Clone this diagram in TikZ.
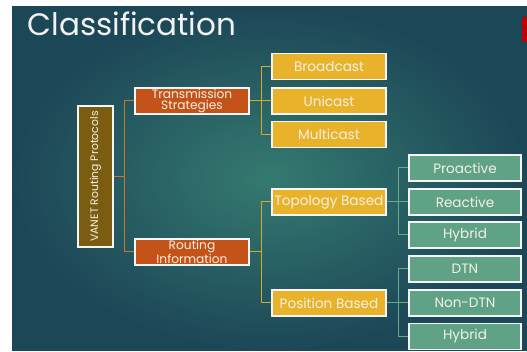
\documentclass[tikz,border=0pt]{standalone}
\usepackage{fontspec}
\setmainfont{Poppins}
\definecolor{bgdark}{HTML}{1C4757}
\definecolor{bglight}{HTML}{357A70}
\definecolor{olivebox}{HTML}{7B5D12}
\definecolor{rustbox}{HTML}{C4531A}
\definecolor{goldbox}{HTML}{E8B32A}
\definecolor{greenbox}{HTML}{5FA286}
\definecolor{rustline}{HTML}{C8762A}
\definecolor{goldline}{HTML}{D9A830}
\definecolor{greenline}{HTML}{6AA88A}
\definecolor{boxtext}{HTML}{F6F1E4}
\begin{document}
\begin{tikzpicture}[x=1pt,y=-1pt]
        \tikzset{every node/.style={draw=white!92!gray,line width=1.2pt,text=boxtext,inner sep=0pt,align=center,font=\fontsize{13.6}{13.5}\selectfont},
          rootbox/.style={fill=olivebox,minimum width=35pt,minimum height=141pt},
          rustnode/.style={fill=rustbox,minimum width=114pt,minimum height=26pt,font=\fontsize{12.2}{11.6}\selectfont},
          goldnode/.style={fill=goldbox,minimum width=114pt,minimum height=26pt},
          greennode/.style={fill=greenbox,minimum width=112pt,minimum height=26pt}}
        % page and slide
        \useasboundingbox (0,0) rectangle (527,352);
        \fill[white] (0,0) rectangle (527,352);
        \shade[inner color=bglight,outer color=bgdark] (12,7) rectangle (527,350);
        \fill[red!75!black] (522,17) rectangle (527,42);
        \node[draw=none,anchor=base west,font=\fontsize{31}{31}\selectfont,text=white!90!gray] (title) at (27,36) {Classification};
        %\node (name) at (x,y) [style] {text};
        \node[rootbox] (root) at (95.5,176.5) {};
        \node[draw=none,rotate=90,font=\fontsize{10.8}{10.8}\selectfont] (rootlabel) at (root.center) {VANET Routing Protocols};
        \node[rustnode] (trans) at (192,101) {Transmission\\Strategies};
        \node[rustnode] (rout) at (192,252) {Routing\\Information};
        \node[goldnode] (bc) at (329,66.5) {Broadcast};
        \node[goldnode] (uc) at (329,101) {Unicast};
        \node[goldnode] (mc) at (329,134.5) {Multicast};
        \node[goldnode] (topo) at (329,202) {Topology Based};
        \node[goldnode] (pos) at (329,303) {Position Based};
        \node[greennode] (pro) at (465,168) {Proactive};
        \node[greennode] (rea) at (465,202) {Reactive};
        \node[greennode] (hyb) at (465,235) {Hybrid};
        \node[greennode] (dtn) at (465,269) {DTN};
        \node[greennode] (ndtn) at (465,303) {Non-DTN};
        \node[greennode] (hyb2) at (465,336.5) {Hybrid};
        \draw[rustline,line width=1pt] (root.east) -- ++(11,0) |- (trans.west);
        \draw[rustline,line width=1pt] (root.east) -- ++(11,0) |- (rout.west);
        \draw[goldline,line width=1pt] (trans.east) -- ++(12,0) |- (bc.west);
        \draw[goldline,line width=1pt] (trans.east) -- (uc.west);
        \draw[goldline,line width=1pt] (trans.east) -- ++(12,0) |- (mc.west);
        \draw[goldline,line width=1pt] (rout.east) -- ++(12,0) |- (topo.west);
        \draw[goldline,line width=1pt] (rout.east) -- ++(12,0) |- (pos.west);
        \draw[greenline,line width=1pt] (topo.east) -- ++(12,0) |- (pro.west);
        \draw[greenline,line width=1pt] (topo.east) -- (rea.west);
        \draw[greenline,line width=1pt] (topo.east) -- ++(12,0) |- (hyb.west);
        \draw[greenline,line width=1pt] (pos.east) -- ++(12,0) |- (dtn.west);
        \draw[greenline,line width=1pt] (pos.east) -- (ndtn.west);
        \draw[greenline,line width=1pt] (pos.east) -- ++(12,0) |- (hyb2.west);
        \end{tikzpicture}
\end{document}
